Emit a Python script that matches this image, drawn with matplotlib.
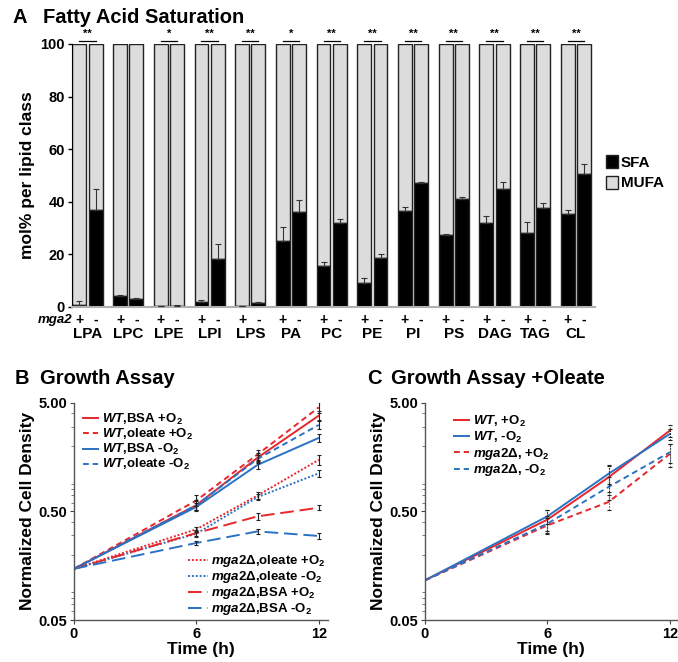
import numpy as np
import matplotlib
matplotlib.use("Agg")
import matplotlib.pyplot as plt
from matplotlib.ticker import FixedLocator, LogLocator, NullFormatter
import matplotlib.transforms as mtransforms

plt.rcParams['font.family'] = ['Liberation Sans', 'DejaVu Sans']
plt.rcParams['font.weight'] = 'bold'
plt.rcParams['axes.labelweight'] = 'bold'
plt.rcParams['mathtext.fontset'] = 'custom'
plt.rcParams['mathtext.rm'] = 'Liberation Sans:bold'
plt.rcParams['mathtext.it'] = 'Liberation Sans:italic:bold'
plt.rcParams['mathtext.bf'] = 'Liberation Sans:bold'

# Panel A data: SFA mol% (+ = mga2 present, - = mga2 deleted)
lipids = ["LPA", "LPC", "LPE", "LPI", "LPS", "PA", "PC", "PE", "PI", "PS", "DAG", "TAG", "CL"]
sfa_plus = [0.8, 4.0, 0.3, 2.0, 0.2, 25.0, 15.5, 9.3, 36.6, 27.2, 31.8, 28.2, 35.4]
sfa_plus_err = [1.4, 0.7, 0.1, 0.5, 0.1, 5.5, 1.5, 1.6, 1.4, 0.5, 2.9, 4.0, 1.6]
sfa_minus = [37.0, 3.2, 0.5, 18.2, 1.5, 36.0, 32.0, 18.8, 47.0, 41.0, 44.8, 37.6, 50.6]
sfa_minus_err = [8.0, 0.3, 0.1, 5.8, 0.2, 4.5, 1.3, 1.3, 0.5, 0.8, 2.8, 2.0, 3.7]
signif = ["**", "", "*", "**", "**", "*", "**", "**", "**", "**", "**", "**", "**"]

# Panel B data: normalized cell density
t_b = [0, 6, 9, 12]
b_series = [
    ("$\\it{WT}$,BSA +O$_2$", [0.148, 0.57, 1.56, 3.80], [0, 0.06, 0.15, 0.35], "#e8262b", "-"),
    ("$\\it{WT}$,oleate +O$_2$", [0.148, 0.63, 1.67, 4.53], [0, 0.07, 0.18, 0.55], "#e8262b", (0, (3, 2))),
    ("$\\it{WT}$,BSA -O$_2$", [0.148, 0.55, 1.34, 2.37], [0, 0.05, 0.12, 0.18], "#2a72c3", "-"),
    ("$\\it{WT}$,oleate -O$_2$", [0.148, 0.57, 1.52, 3.12], [0, 0.05, 0.12, 0.25], "#2a72c3", (0, (3, 2))),
    ("$\\it{mga2}$Δ,oleate +O$_2$", [0.148, 0.342, 0.70, 1.49], [0, 0.02, 0.05, 0.15], "#e8262b", (0, (1, 1))),
    ("$\\it{mga2}$Δ,oleate -O$_2$", [0.148, 0.312, 0.676, 1.12], [0, 0.02, 0.04, 0.08], "#2a72c3", (0, (1, 1))),
    ("$\\it{mga2}$Δ,BSA +O$_2$", [0.148, 0.316, 0.45, 0.54], [0, 0.02, 0.03, 0.03], "#e8262b", (0, (7, 3))),
    ("$\\it{mga2}$Δ,BSA -O$_2$", [0.148, 0.256, 0.327, 0.297], [0, 0.01, 0.02, 0.02], "#2a72c3", (0, (7, 3))),
]

# Panel C data
t_c = [0, 6, 9, 12]
c_series = [
    ("$\\it{WT}$, +O$_2$", [0.116, 0.42, 1.03, 2.77], [0, 0.09, 0.28, 0.35], "#e8262b", "-"),
    ("$\\it{WT}$, -O$_2$", [0.116, 0.45, 1.11, 2.58], [0, 0.07, 0.22, 0.30], "#2a72c3", "-"),
    ("$\\it{mga2}$Δ, +O$_2$", [0.116, 0.372, 0.61, 1.69], [0, 0.06, 0.10, 0.40], "#e8262b", (0, (3, 2))),
    ("$\\it{mga2}$Δ, -O$_2$", [0.116, 0.385, 0.84, 1.75], [0, 0.07, 0.20, 0.35], "#2a72c3", (0, (3, 2))),
]

fig = plt.figure(figsize=(6.78, 6.62), dpi=100)

# ---------------- Panel A ----------------
axA = fig.add_axes([0.1062, 0.5363, 0.7714, 0.3973])
x = np.arange(len(lipids))
w = 0.34
off = 0.2
mufa_plus = [100 - v for v in sfa_plus]
mufa_minus = [100 - v for v in sfa_minus]
for pos, sfa, mufa, err in [(x - off, sfa_plus, mufa_plus, sfa_plus_err),
                            (x + off, sfa_minus, mufa_minus, sfa_minus_err)]:
    axA.bar(pos, mufa, w, bottom=sfa, color="#dcdcdc", edgecolor="#222222", linewidth=1.0, zorder=2)
    axA.bar(pos, sfa, w, color="black", edgecolor="#222222", linewidth=1.0, zorder=2)
    axA.errorbar(pos, sfa, yerr=[np.zeros(len(err)), err], fmt="none", ecolor="#333333",
                 elinewidth=0.8, capsize=2, capthick=0.8, zorder=3)

for i, s in enumerate(signif):
    if s:
        axA.plot([i - off, i + off], [101.2, 101.2], color="black", lw=0.9, clip_on=False)
        axA.text(i, 101.8, s, ha="center", va="bottom", fontsize=8, clip_on=False)

axA.set_xlim(-0.38, 12.47)
axA.set_ylim(0, 100)
axA.set_yticks([0, 20, 40, 60, 80, 100])
axA.set_yticklabels(["0", "20", "40", "60", "80", "100"], fontweight="bold")
axA.tick_params(axis="y", labelsize=10.5, length=3, width=1, pad=2)
axA.set_xticks([])
axA.spines["top"].set_visible(False)
axA.spines["right"].set_visible(False)
axA.spines["bottom"].set_color("#b0b0b0")
axA.spines["bottom"].set_linewidth(1.5)
axA.set_ylabel("mol% per lipid class", fontsize=12.5, labelpad=4)

trA = mtransforms.blended_transform_factory(axA.transData, axA.transAxes)
for i, name in enumerate(lipids):
    axA.text(i - off, -0.048, "+", transform=trA, ha="center", va="center", fontsize=10)
    axA.text(i + off, -0.048, "-", transform=trA, ha="center", va="center", fontsize=10)
    axA.text(i, -0.102, name, transform=trA, ha="center", va="center", fontsize=11)
axA.text(-0.37, -0.05, "mga2", transform=trA, ha="right", va="center", fontsize=9.5, style="italic")

hS = plt.Rectangle((0, 0), 1, 1, facecolor="black", edgecolor="#222222")
hM = plt.Rectangle((0, 0), 1, 1, facecolor="#dcdcdc", edgecolor="#222222")
axA.legend([hS, hM], ["SFA", "MUFA"], loc="center left", bbox_to_anchor=(1.0, 0.51),
           frameon=False, fontsize=11, handlelength=0.8, handleheight=0.9,
           handletextpad=0.2, labelspacing=0.4, borderaxespad=0.3)

fig.text(0.018, 0.974, "A", fontsize=14.5, va="center")
fig.text(0.063, 0.974, "Fatty Acid Saturation", fontsize=14.5, va="center")


def growth_axes(ax, xmax):
    ax.set_yscale("log")
    ax.set_ylim(0.05, 5)
    ax.set_xlim(0, xmax)
    ax.set_xticks([0, 6, 12])
    ax.set_xticklabels(["0", "6", "12"], fontweight="bold")
    ax.yaxis.set_major_locator(FixedLocator([0.05, 0.5, 5]))
    ax.set_yticklabels(["0.05", "0.50", "5.00"], fontweight="bold")
    ax.yaxis.set_minor_locator(LogLocator(base=10, subs=np.arange(2, 10)))
    ax.yaxis.set_minor_formatter(NullFormatter())
    ax.tick_params(axis="both", which="major", labelsize=10.5, length=3, width=0.8, pad=2, colors="#444444",
                   labelcolor="black")
    ax.tick_params(axis="y", which="minor", length=2, width=0.6, colors="#666666")
    for sp in ["top", "right"]:
        ax.spines[sp].set_visible(False)
    for sp in ["left", "bottom"]:
        ax.spines[sp].set_color("#555555")
        ax.spines[sp].set_linewidth(1.0)
    ax.set_ylabel("Normalized Cell Density", fontsize=12.5, labelpad=2)
    ax.set_xlabel("Time (h)", fontsize=12.5, labelpad=1)


# ---------------- Panel B ----------------
axB = fig.add_axes([0.1091, 0.0634, 0.3746, 0.3283])
linesB = []
for label, vals, err, col, ls in b_series:
    ln, = axB.plot(t_b, vals, color=col, ls=ls, lw=1.4, label=label, zorder=2)
    axB.errorbar(t_b[1:], vals[1:], yerr=err[1:], fmt="none", ecolor="#222222",
                 elinewidth=0.8, capsize=1.5, capthick=0.8, zorder=3)
    linesB.append(ln)
growth_axes(axB, 12.45)
legB1 = axB.legend(linesB[:4], [s[0] for s in b_series[:4]], loc="upper left",
                   bbox_to_anchor=(0.0, 1.0), frameon=False, fontsize=9.5,
                   handlelength=1.1, handletextpad=0.3, labelspacing=0.0, borderaxespad=0.3)
axB.add_artist(legB1)
axB.legend(linesB[4:], [s[0] for s in b_series[4:]], loc="lower right",
           bbox_to_anchor=(1.03, -0.03), frameon=False, fontsize=9.5,
           handlelength=1.5, handletextpad=0.3, labelspacing=0.0, borderaxespad=0.3)
fig.text(0.022, 0.429, "B", fontsize=14.5, va="center")
fig.text(0.059, 0.429, "Growth Assay", fontsize=14.5, va="center")

# ---------------- Panel C ----------------
axC = fig.add_axes([0.6268, 0.0634, 0.3717, 0.3283])
linesC = []
for label, vals, err, col, ls in c_series:
    ln, = axC.plot(t_c, vals, color=col, ls=ls, lw=1.4, label=label, zorder=2)
    eb = axC.errorbar(t_c[1:], vals[1:], yerr=err[1:], fmt="none", ecolor="#222222",
                      elinewidth=0.8, capsize=1.5, capthick=0.8, zorder=3)
    eb[2][0].set_linestyle(":")
    linesC.append(ln)
growth_axes(axC, 12.35)
axC.legend(linesC, [s[0] for s in c_series], loc="upper left", bbox_to_anchor=(0.08, 0.99),
           frameon=False, fontsize=9.5, handlelength=1.1, handletextpad=0.3,
           labelspacing=0.05, borderaxespad=0.3)
fig.text(0.541, 0.429, "C", fontsize=14.5, va="center")
fig.text(0.577, 0.429, "Growth Assay +Oleate", fontsize=14.5, va="center")

fig.savefig("out.png", dpi=100)
